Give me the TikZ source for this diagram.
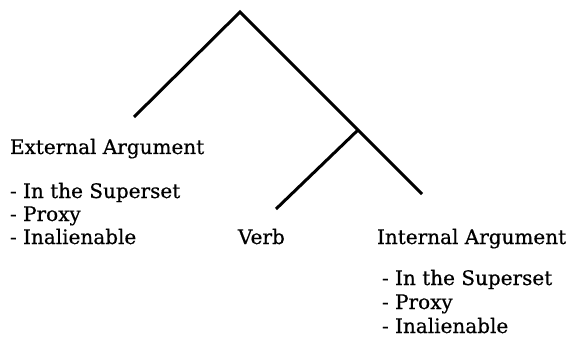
\documentclass[tikz,border=0pt]{standalone}
\usepackage{fontspec}
\setmainfont{DejaVu Serif}[FakeBold=0.6]
\usetikzlibrary{positioning}

\begin{document}
\begin{tikzpicture}[x=1pt, y=-1pt, inner sep=0pt, outer sep=0pt]

    % style
    \tikzset{branch/.style={line width=3pt},
             leaf/.style={anchor=base west, font=\fontsize{20}{23}\selectfont},
             feats/.style={leaf, align=left}};

    % page frame
    \useasboundingbox (0,0) rectangle (573,339);

    % tree coordinates
    \coordinate (Root) at (240,12);
    \coordinate (ExtEnd) at (134,117);
    \coordinate (Mid) at (358,130);
    \coordinate (VerbEnd) at (276,209);
    \coordinate (IntEnd) at (422,194);

    % branches
    \draw [branch] (ExtEnd) -- (Root) -- (IntEnd);
    \draw [branch] (Mid) -- (VerbEnd);

    % external argument (base of a list = its last line)
    \node [leaf] (ExtArg) at (10,154) {External Argument};
    \node [feats] (ExtFeats) at (10,244) {- In the Superset\\- Proxy\\- Inalienable};

    % verb
    \node [leaf] (Verb) at (238,244) {Verb};

    % internal argument
    \node [leaf] (IntArg) at (377,244) {Internal Argument};
    \node [feats, font=\fontsize{20}{24}\selectfont] (IntFeats) at (382,333) {- In the Superset\\- Proxy\\- Inalienable};

\end{tikzpicture}
\end{document}
